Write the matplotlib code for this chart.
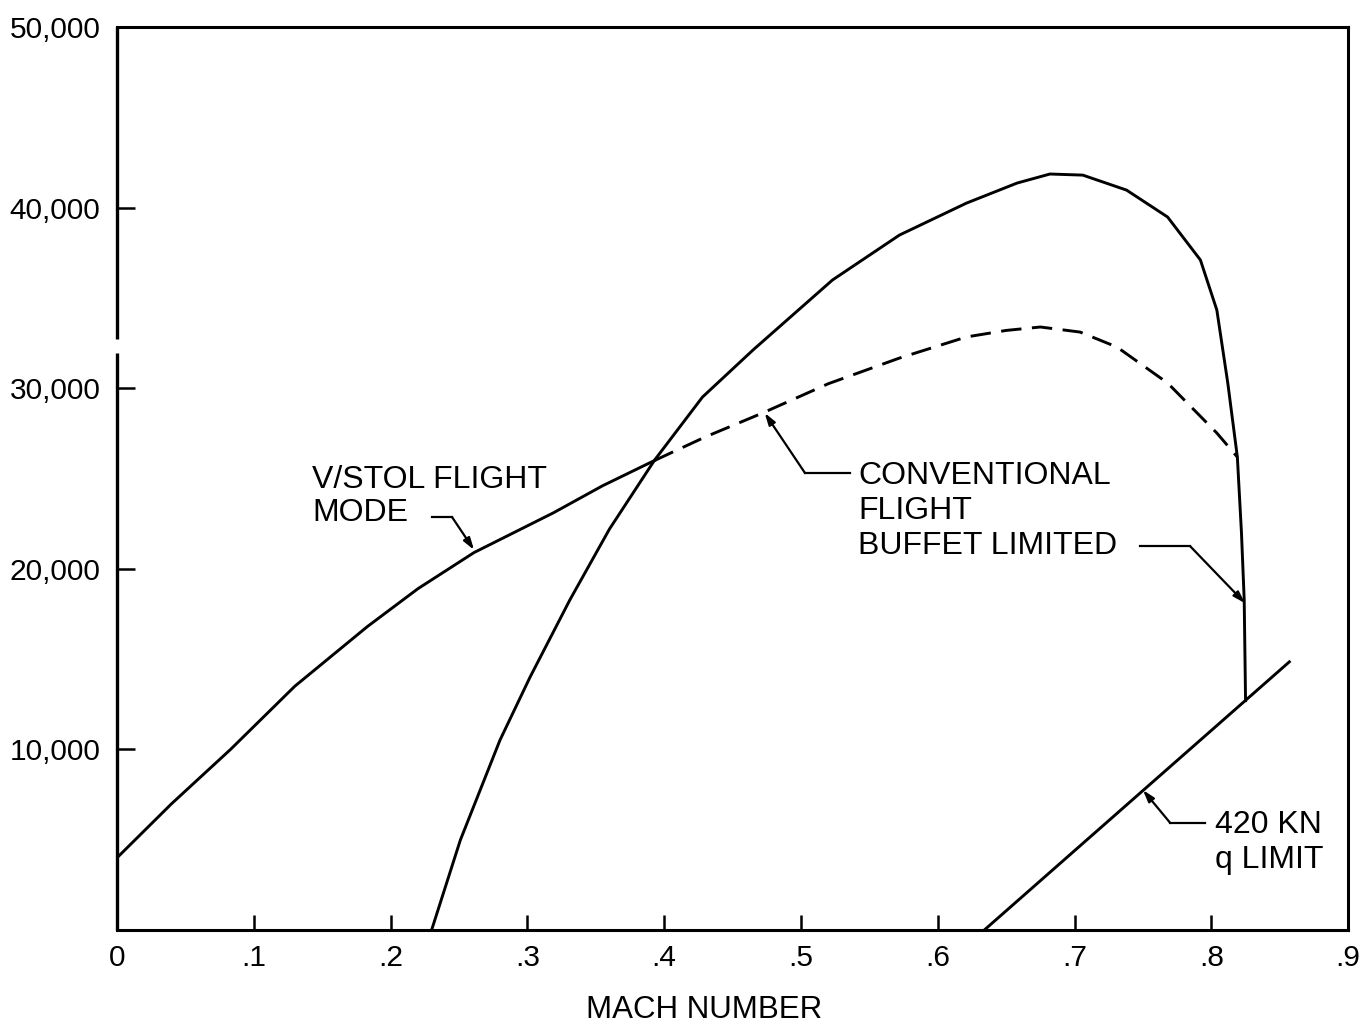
import matplotlib
matplotlib.use("Agg")
import matplotlib.pyplot as plt

plt.rcParams['font.family'] = ['Liberation Sans', 'DejaVu Sans']

# V/STOL flight mode boundary (solid part up to the crossing, dashed beyond)
vstol_mach = [0.0, 0.04, 0.083, 0.13, 0.183, 0.22, 0.261, 0.29, 0.319,
              0.355, 0.393]
vstol_alt = [4000, 7000, 10000, 13500, 16800, 18900, 20900, 22000, 23100,
             24600, 26000]

buffet_mach = [0.393, 0.43, 0.472, 0.52, 0.572, 0.621, 0.65, 0.675, 0.704,
               0.731, 0.768, 0.804, 0.819]
buffet_alt = [26000, 27300, 28630, 30250, 31670, 32840, 33200, 33390, 33110,
              32280, 30290, 27520, 26190]

# conventional flight envelope
conv_mach = [0.230, 0.251, 0.280, 0.302, 0.331, 0.36, 0.393, 0.428, 0.465,
             0.523, 0.572, 0.621, 0.658, 0.682, 0.706, 0.738, 0.768, 0.792,
             0.804, 0.812, 0.819, 0.822, 0.824, 0.825]
conv_alt = [0, 4980, 10520, 14010, 18270, 22200, 26020, 29510, 32120,
            35990, 38480, 40250, 41360, 41860, 41800, 40970, 39480, 37100,
            34330, 30290, 26190, 22000, 18300, 12700]

# 420 KN q limit
q_mach = [0.634, 0.857]
q_alt = [0, 14850]

x_ticks = [0, 0.1, 0.2, 0.3, 0.4, 0.5, 0.6, 0.7, 0.8, 0.9]
x_labels = ['0', '.1', '.2', '.3', '.4', '.5', '.6', '.7', '.8', '.9']
y_ticks = [10000, 20000, 30000, 40000, 50000]
y_labels = ['10,000', '20,000', '30,000', '40,000', '50,000']

fig = plt.figure(figsize=(13.68, 10.27), dpi=100)
ax = fig.add_axes([0.0855, 0.0944, 0.9, 0.8793])

lw = 2.1
ax.plot(vstol_mach, vstol_alt, color='black', lw=lw)
ax.plot(buffet_mach, buffet_alt, color='black', lw=lw, dashes=(7, 3.6))
ax.plot(conv_mach, conv_alt, color='black', lw=lw)
ax.plot(q_mach, q_alt, color='black', lw=lw)

ax.set_xlim(0, 0.9)
ax.set_ylim(0, 50000)
ax.set_xticks(x_ticks)
ax.set_xticklabels(x_labels)
ax.set_yticks(y_ticks)
ax.set_yticklabels(y_labels)
ax.tick_params(axis='both', direction='in', width=1.8, labelsize=21.5)
ax.tick_params(axis='x', length=11, pad=10)
ax.tick_params(axis='y', length=13, pad=12)

for s in ax.spines.values():
    s.set_linewidth(2.2)
# left spine has a small break in the original scan
ax.spines['left'].set_visible(False)
ax.plot([0, 0], [0, 31950], color='black', lw=2.4, clip_on=False,
        solid_capstyle='butt')
ax.plot([0, 0], [32700, 50000], color='black', lw=2.4, clip_on=False,
        solid_capstyle='butt')

fig.text(0.515, 0.0166, 'MACH NUMBER', fontsize=22.5, ha='center', va='center')

tfs = 23
arrow = dict(arrowstyle='-|>,head_length=0.7,head_width=0.22', color='black',
             lw=1.6, shrinkA=0, shrinkB=0)

# V/STOL label
ax.text(0.1425, 25750, 'V/STOL FLIGHT\nMODE', fontsize=tfs, va='top',
        ha='left', linespacing=1.15)
ax.plot([0.2303, 0.2449], [22870, 22870], color='black', lw=1.6)
ax.annotate('', xy=(0.261, 21050), xytext=(0.2449, 22870), arrowprops=arrow)

# conventional flight label
ax.text(0.5417, 25950, 'CONVENTIONAL\nFLIGHT\nBUFFET LIMITED', fontsize=tfs,
        va='top', ha='left', linespacing=1.2)
ax.plot([0.503, 0.5358], [25300, 25300], color='black', lw=1.6)
ax.annotate('', xy=(0.4735, 28630), xytext=(0.503, 25300), arrowprops=arrow)
ax.plot([0.748, 0.7844], [21260, 21260], color='black', lw=1.6)
ax.annotate('', xy=(0.8246, 18100), xytext=(0.7844, 21260), arrowprops=arrow)

# q limit label
ax.text(0.8026, 6650, '420 KN\nq LIMIT', fontsize=tfs, va='top', ha='left',
        linespacing=1.2)
ax.plot([0.77, 0.7953], [5925, 5925], color='black', lw=1.6)
ax.annotate('', xy=(0.75, 7750), xytext=(0.77, 5925), arrowprops=arrow)

fig.savefig('out.png', dpi=100)
